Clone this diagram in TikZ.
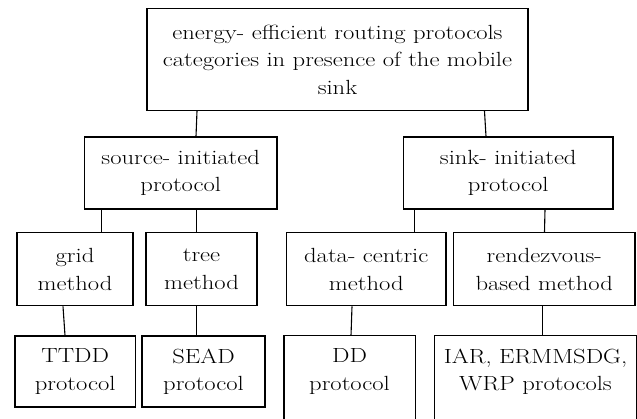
\documentclass[tikz,border=0pt]{standalone}
\usepackage{fontspec}
\usepackage{graphicx}
\newcommand{\sx}[1]{\scalebox{1.2}[1]{#1}}
\begin{document}
\begin{tikzpicture}[x=1pt,y=-1pt,
  box/.style={draw, line width=1.2pt, align=center, inner sep=0pt,
    font=\fontsize{20.5}{27.5}\selectfont},
  conn/.style={line width=1.1pt}]
\useasboundingbox (0,0) rectangle (637,418);
\node[box, minimum width=381pt, minimum height=102pt] (top) at (337.5,59.5)
  {\sx{energy- efficient routing protocols}\\\sx{categories in presence of the mobile}\\\sx{sink}};
\node[box, minimum width=192.5pt, minimum height=72pt] (source) at (180.75,173) {\sx{source- initiated}\\\sx{protocol}};
\node[box, minimum width=209.5pt, minimum height=72pt] (sink) at (508.25,173) {\sx{sink- initiated}\\\sx{protocol}};
\node[box, minimum width=116pt, minimum height=73pt] (grid) at (75,269.3) {\sx{grid}\\\sx{method}};
\node[box, minimum width=111pt, minimum height=73pt] (tree) at (201.5,269.3) {\sx{tree}\\\sx{method}};
\node[box, minimum width=159.5pt, minimum height=73pt] (data) at (366.25,269.3) {\sx{data- centric}\\\sx{method}};
\node[box, minimum width=181.5pt, minimum height=73pt] (rend) at (544.25,269.3) {\sx{rendezvous-}\\\sx{based method}};
\node[box, minimum width=120.4pt, minimum height=71pt] (ttdd) at (75.2,371.5) {\sx{TTDD}\\\sx{protocol}};
\node[box, minimum width=123pt, minimum height=71pt] (sead) at (203.5,371.5) {\sx{SEAD}\\\sx{protocol}};
\node[box, draw=none, minimum width=130pt, minimum height=71pt] (dd) at (349.5,371.5) {\sx{DD}\\\sx{protocol}};
\node[box, draw=none, minimum width=201pt, minimum height=71pt] (iar) at (535.5,371.5) {\sx{IAR, ERMMSDG,}\\\sx{WRP protocols}};
\draw[line width=1.2pt] ([yshift=-20pt]dd.south west) -- (dd.north west) -- (dd.north east) -- ([yshift=-20pt]dd.south east);
\draw[line width=1.2pt] ([yshift=-20pt]iar.south west) -- (iar.north west) -- (iar.north east) -- ([yshift=-20pt]iar.south east);
\draw[conn] (top.south -| 197,0) -- (source.north -| 196,0);
\draw[conn] (top.south -| 484.5,0) -- (sink.north -| 486,0);
\draw[conn] (source.south -| 101.6,0) -- (grid.north -| 101.6,0);
\draw[conn] (source.south -| 196.7,0) -- (tree.north -| 196.7,0);
\draw[conn] (sink.south -| 414.6,0) -- (data.north -| 414.6,0);
\draw[conn] (sink.south -| 545,0) -- (rend.north -| 544.5,0);
\draw[conn] (grid.south -| 63,0) -- (ttdd.north -| 65,0);
\draw[conn] (tree.south -| 196.7,0) -- (sead.north -| 196.7,0);
\draw[conn] (data.south -| 352,0) -- (dd.north -| 351,0);
\draw[conn] (rend.south -| 542.7,0) -- (iar.north -| 542.7,0);
\end{tikzpicture}
\end{document}
